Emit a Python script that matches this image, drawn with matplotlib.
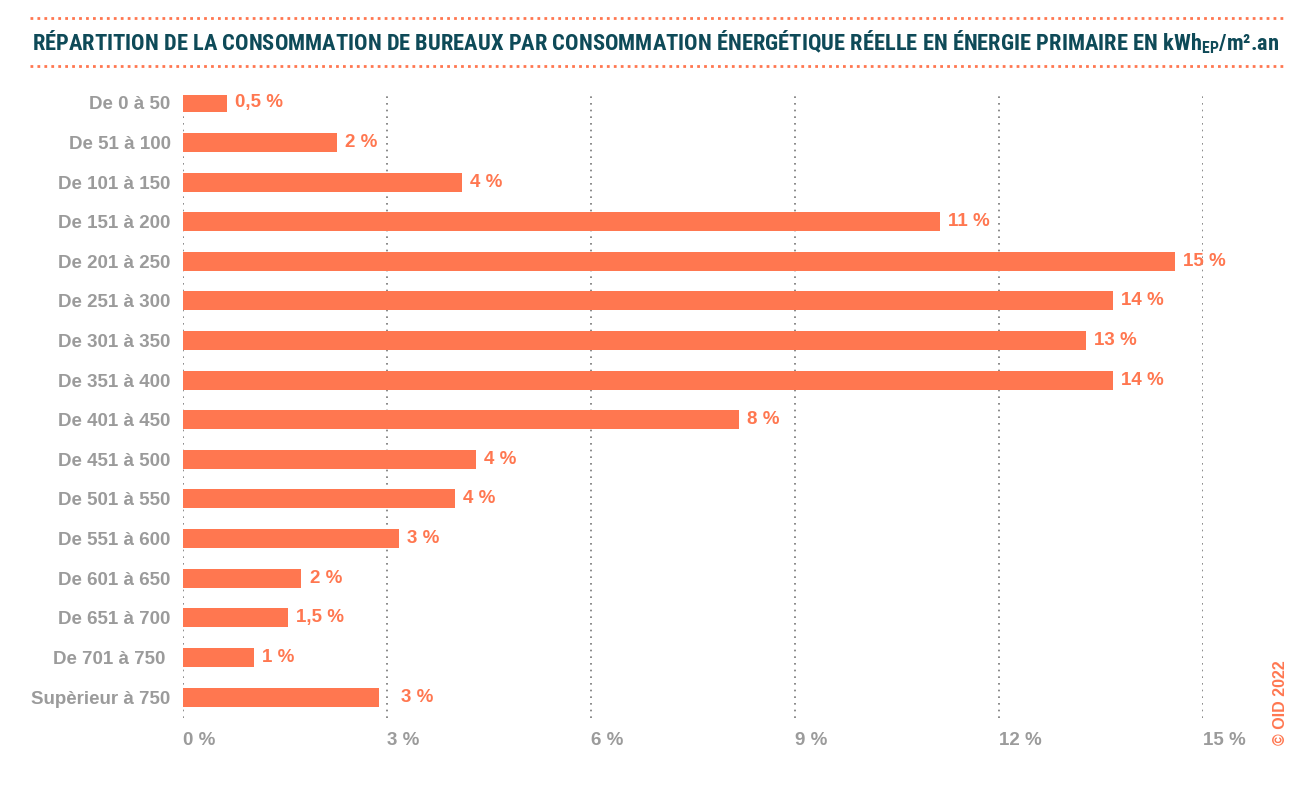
import matplotlib.pyplot as plt
from matplotlib import font_manager

categories = ["De 0 à 50", "De 51 à 100", "De 101 à 150", "De 151 à 200",
              "De 201 à 250", "De 251 à 300", "De 301 à 350", "De 351 à 400",
              "De 401 à 450", "De 451 à 500", "De 501 à 550", "De 551 à 600",
              "De 601 à 650", "De 651 à 700", "De 701 à 750 ", "Supèrieur à 750"]
# bar lengths as drawn (percent)
values = [0.65, 2.26, 4.1, 11.13, 14.59, 13.68, 13.28, 13.68,
          8.18, 4.31, 4.0, 3.18, 1.74, 1.54, 1.04, 2.88]
value_labels = ["0,5 %", "2 %", "4 %", "11 %", "15 %", "14 %", "13 %", "14 %",
                "8 %", "4 %", "4 %", "3 %", "2 %", "1,5 %", "1 %", "3 %"]
xticks = [0, 3, 6, 9, 12, 15]

orange = "#ff7750"
grey = "#9b9b9b"
teal = "#0e4a58"

names = {f.name for f in font_manager.fontManager.ttflist}
narrow = next((n for n in ["Roboto Condensed", "Archivo Narrow", "Barlow Semi Condensed",
                           "Barlow Condensed", "Asap Condensed"] if n in names), "DejaVu Sans")
plt.rcParams['font.family'] = ['Liberation Sans', 'DejaVu Sans']

fig = plt.figure(figsize=(13, 8), dpi=100)
ax = fig.add_axes([0.1408, 0.1025, 0.7846, 0.7787])

y = range(len(categories))
ax.barh(y, values, height=0.48, color=orange)
for i, (v, lab) in enumerate(zip(values, value_labels)):
    # keep the label clear of the dotted grid line just after the bar
    off = 0.12 if (v + 0.12) % 3 > 0.2 else 0.32
    ax.text(v + off, i, lab, va='center', ha='left', color=orange,
            fontsize=13.5, fontweight='bold', clip_on=False)

ax.set_xlim(0, 15)
ax.set_ylim(15.53, -0.2)
ax.set_yticks(list(y))
ax.set_yticklabels(categories, fontsize=13.5, fontweight='bold', color=grey)
ax.set_xticks(xticks)
ax.set_xticklabels([f"{t} %" for t in xticks], fontsize=13.5, fontweight='bold',
                   color=grey, ha='left')
ax.tick_params(axis='both', length=0)
ax.tick_params(axis='y', pad=9)
ax.tick_params(axis='x', pad=10)
for s in ax.spines.values():
    s.set_visible(False)
ax.grid(axis='x', linestyle=(0, (1, 3)), color='#777777', linewidth=1.2)
ax.set_axisbelow(True)

# title with dotted rules
fig.text(0.025, 0.947, "RÉPARTITION DE LA CONSOMMATION DE BUREAUX PAR CONSOMMATION "
         "ÉNERGÉTIQUE RÉELLE EN ÉNERGIE PRIMAIRE EN kWh$_{\\mathregular{EP}}$/m².an",
         family=narrow, fontweight='bold', fontsize=16.2, color=teal,
         ha='left', va='center')
for yy in (0.978, 0.918):
    fig.add_artist(plt.Line2D([0.023, 0.988], [yy, yy], color=orange,
                              linestyle=(0, (1, 1.5)), linewidth=2))

fig.text(0.985, 0.069, "© OID 2022", rotation=90, color=orange, fontsize=11.5,
         fontweight='bold', ha='center', va='bottom')

fig.savefig("out.png", dpi=100)
